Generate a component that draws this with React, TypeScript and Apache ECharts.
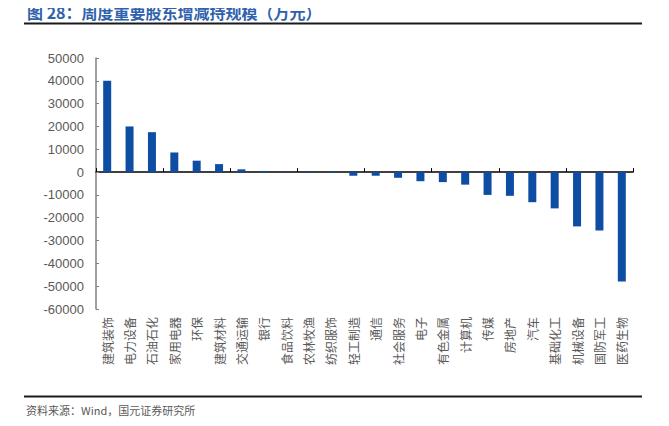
import React, { useEffect, useRef } from "react";
import * as echarts from "echarts";

const categories = [
  "建筑装饰", "电力设备", "石油石化", "家用电器", "环保", "建筑材料", "交通运输", "银行",
  "食品饮料", "农林牧渔", "纺织服饰", "轻工制造", "通信", "社会服务", "电子", "有色金属",
  "计算机", "传媒", "房地产", "汽车", "基础化工", "机械设备", "国防军工", "医药生物",
];
const values = [
  40000, 20000, 17500, 8600, 5000, 3500, 1200, 500,
  200, -200, -400, -1600, -1600, -2500, -4000, -4400,
  -5500, -10000, -10400, -13200, -15900, -23800, -25600, -47900,
];
const yTicks = { min: -60000, max: 50000, interval: 10000 };
const titleText = "图 28：周度重要股东增减持规模（万元）";
const sourceText = "资料来源：Wind，国元证券研究所";

export default function App() {
  const ref = useRef<HTMLDivElement>(null);
  useEffect(() => {
    if (!ref.current) return;
    const chart = echarts.init(ref.current, null, { renderer: "svg" });
    chart.setOption({
      animation: false,
      grid: { left: 96, right: 36, top: 58, bottom: 117 },
      graphic: [
        {
          type: "text",
          left: 27,
          top: 4,
          style: {
            text: titleText,
            fill: "#2f62ad",
            font: 'bold 16px "Noto Sans CJK SC", sans-serif',
          },
        },
        {
          type: "rect",
          shape: { x: 24, y: 22.5, width: 618, height: 2 },
          style: { fill: "#1a1a1a" },
        },
        {
          type: "rect",
          shape: { x: 24, y: 395.5, width: 618, height: 2 },
          style: { fill: "#1a1a1a" },
        },
        {
          type: "text",
          left: 26,
          top: 404,
          style: {
            text: sourceText,
            fill: "#595959",
            font: '11px "Noto Sans CJK SC", sans-serif',
          },
        },
      ],
      xAxis: [
        {
          type: "category",
          data: categories,
          axisLine: { onZero: true, lineStyle: { color: "#000", width: 1.5 } },
          axisTick: { show: true, inside: true, length: 4, lineStyle: { color: "#000" } },
          axisLabel: { show: false },
          splitLine: { show: false },
        },
        {
          type: "category",
          data: categories,
          position: "bottom",
          axisLine: { show: false, onZero: false },
          axisTick: { show: false },
          axisLabel: {
            show: true,
            interval: 0,
            rotate: 90,
            margin: 8,
            color: "#595959",
            fontSize: 12,
            fontFamily: '"Noto Sans CJK SC", sans-serif',
          },
        },
      ],
      yAxis: {
        type: "value",
        min: yTicks.min,
        max: yTicks.max,
        interval: yTicks.interval,
        axisLine: { show: true, lineStyle: { color: "#808080", width: 1.5 } },
        axisTick: { show: true, inside: true, length: 3, lineStyle: { color: "#808080" } },
        axisLabel: {
          color: "#595959",
          fontSize: 13,
          margin: 12,
          fontFamily: '"Liberation Sans", Arial, sans-serif',
          formatter: (v: number) => String(v),
        },
        splitLine: { show: false },
      },
      series: [
        {
          type: "bar",
          data: values,
          barWidth: 8,
          itemStyle: { color: "#0d4ea3" },
        },
      ],
    });
    return () => chart.dispose();
  }, []);
  return <div ref={ref} style={{ width: 669, height: 426, margin: -8 }} />;
}
